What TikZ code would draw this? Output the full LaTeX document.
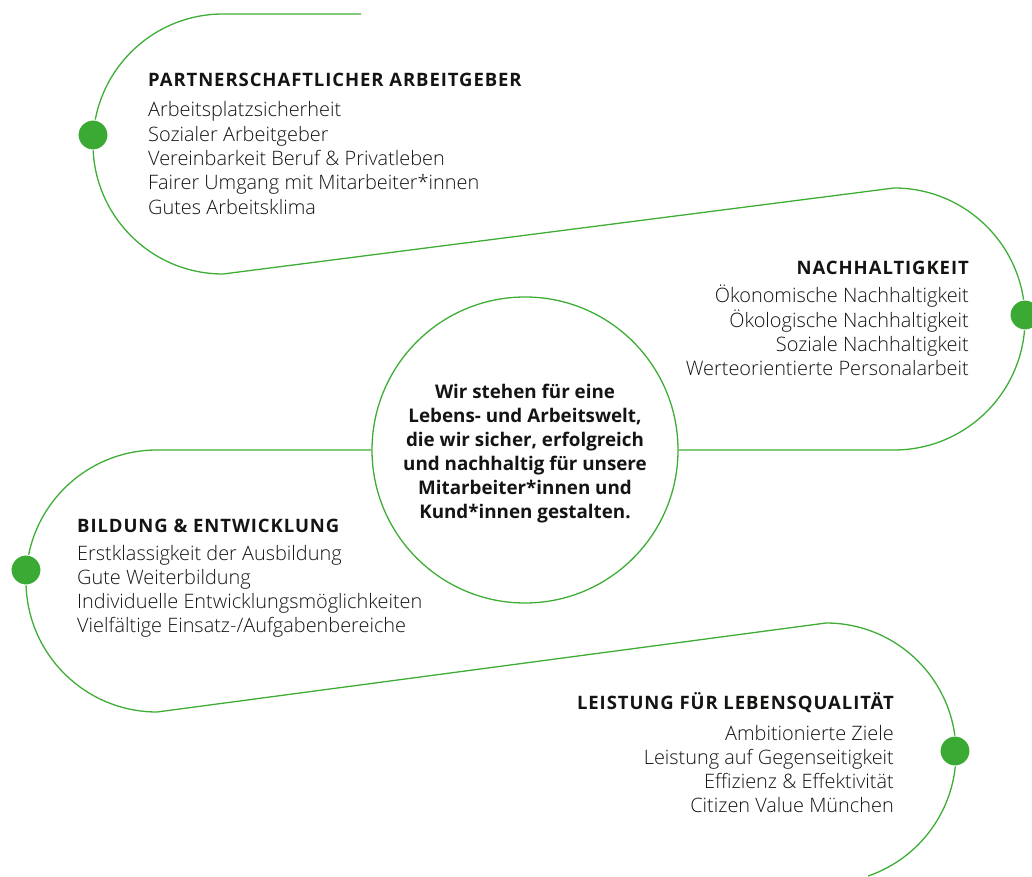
\documentclass[tikz,border=0pt]{standalone}
\usepackage{fontspec}
\setmainfont{Open Sans}
\newfontfamily\lightfont{Open Sans Light}
\newfontfamily\headfont[LetterSpace=5]{Open Sans}
\definecolor{lhgreen}{HTML}{3EAD36}
\definecolor{lhdot}{HTML}{3AAA35}
\definecolor{txt}{HTML}{141413}
\tikzset{
  spiral/.style={draw=lhgreen, line width=1.3pt},
  dotnode/.style={circle, fill=lhdot, draw=white, line width=1pt, minimum size=30pt, inner sep=0pt},
  core/.style={circle, draw=lhgreen, line width=1.3pt, minimum size=306pt, inner sep=0pt},
  head/.style={inner sep=0pt, text=txt, font=\headfont\fontsize{18.5}{20}\selectfont\bfseries},
  body/.style={inner sep=0pt, text=txt, font=\lightfont\fontsize{19.9}{24}\selectfont},
  coretext/.style={inner sep=0pt, text=txt, font=\fontsize{18.8}{24}\selectfont\bfseries},
}
\begin{document}
\begin{tikzpicture}[x=1pt,y=1pt]
\useasboundingbox (0,0) rectangle (1032,876);
% central circle
\node[core] (core) at (525,426) {};
% spiral
\coordinate (start) at (361,862);
\coordinate (end4) at (826,123);
\draw[spiral] (start) -- (223,862) arc[start angle=90, end angle=270, radius=130]
  -- (894,688) arc[start angle=90, end angle=-90, radius=131] -- (core.east);
\draw[spiral] (core.west) -- (157,426) arc[start angle=90, end angle=270, radius=131]
  -- (826,253) arc[start angle=90, end angle=-71.1, radius=130];
% dots
\node[dotnode] (d1) at (93,741) {};
\node[dotnode] (d2) at (1025,561) {};
\node[dotnode] (d3) at (26,306) {};
\node[dotnode] (d4) at (955,125) {};
% section 1
\node[head, anchor=base west] (h1) at (148,789) {PARTNERSCHAFTLICHER ARBEITGEBER};
\foreach \t [count=\i from 0] in {Arbeitsplatzsicherheit, Sozialer Arbeitgeber, Vereinbarkeit Beruf \& Privatleben, Fairer Umgang mit Mitarbeiter*innen, Gutes Arbeitsklima}
  \node[body, anchor=base west] (a\i) at (148,759-24.3*\i) {\t};
% section 2
\node[head, anchor=base east] (h2) at (969,601) {NACHHALTIGKEIT};
\foreach \t [count=\i from 0] in {Ökonomische Nachhaltigkeit, Ökologische Nachhaltigkeit, Soziale Nachhaltigkeit, Werteorientierte Personalarbeit}
  \node[body, anchor=base east] (b\i) at (969,573-24.3*\i) {\t};
% section 3
\node[head, anchor=base west] (h3) at (77,344) {BILDUNG \& ENTWICKLUNG};
\foreach \t [count=\i from 0] in {Erstklassigkeit der Ausbildung, Gute Weiterbildung, Individuelle Entwicklungsmöglichkeiten, Vielfältige Einsatz-/Aufgabenbereiche}
  \node[body, anchor=base west] (c\i) at (77,316-24.3*\i) {\t};
% section 4
\node[head, anchor=base east] (h4) at (894,167) {LEISTUNG FÜR LEBENSQUALITÄT};
\foreach \t [count=\i from 0] in {Ambitionierte Ziele, Leistung auf Gegenseitigkeit, Effizienz \& Effektivität, Citizen Value München}
  \node[body, anchor=base east] (e\i) at (894,136-24.3*\i) {\t};
% core text
\foreach \t [count=\i from 0] in {Wir stehen für eine, {Lebens- und Arbeitswelt,}, {die wir sicher, erfolgreich}, und nachhaltig für unsere, Mitarbeiter*innen und, Kund*innen gestalten.}
  \node[coretext, anchor=base] (t\i) at (525,477-23.8*\i) {\t};
\end{tikzpicture}
\end{document}
